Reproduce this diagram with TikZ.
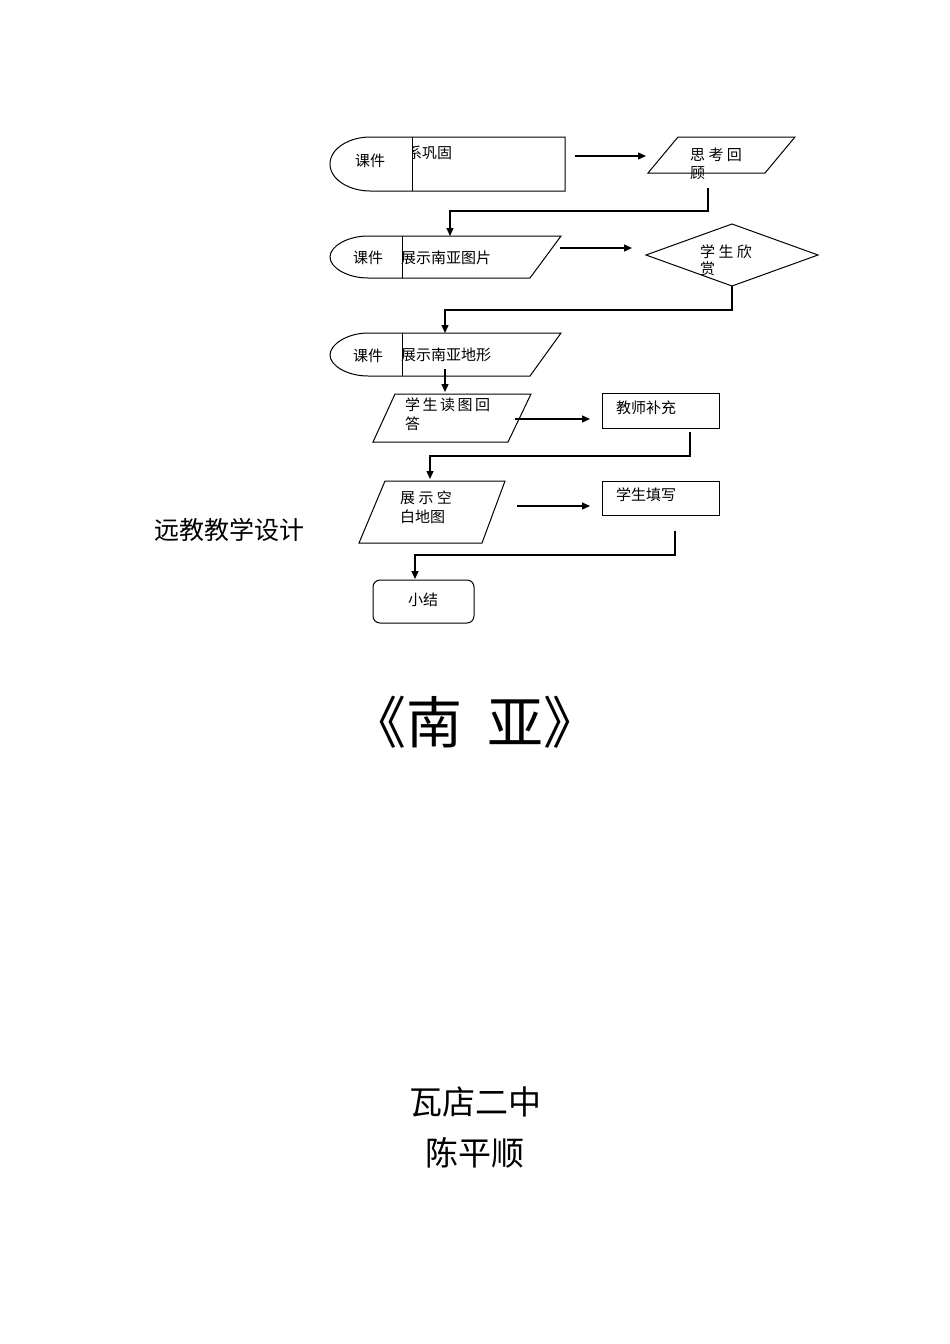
\documentclass[tikz,border=0pt]{standalone}
\usepackage{fontspec}
\setmainfont{Noto Sans CJK SC}
\usetikzlibrary{arrows.meta}
\begin{document}
\begin{tikzpicture}[x=1pt,y=-1pt,
  sh/.style={draw,line width=1pt},
  arr/.style={draw,line width=1.2pt,-{Triangle[length=8pt,width=7pt]}},
  txt/.style={inner sep=0pt,anchor=west,font=\fontsize{15}{17}\selectfont},
  ctr/.style={inner sep=0pt,font=\fontsize{15}{17}\selectfont}]
\useasboundingbox[fill=white] (0,0) rectangle (950,1344);
% shape 1
\draw[sh] (370,137) -- (565,137) -- (565,191) -- (370,191) .. controls (350,191) and (330,180) .. (330,164) .. controls (330,148) and (350,137) .. (370,137);
\draw[sh] (412,137) -- (412,191);
\node[ctr] (k1) at (370,161) {课件};
\begin{scope}
\clip (412,130) rectangle (565,195);
\node[txt] (t1) at (392,153) {联系巩固};
\end{scope}
\coordinate (a1s) at (575,156);
\coordinate (a1e) at (646,156);
\draw[arr] (a1s) -- (a1e);
\draw[sh] (678,137) -- (795,137) -- (765,173) -- (648,173) -- cycle;
\node[txt] (p1) at (690,155) {思\ 考\ 回};
\node[txt] (p1b) at (690,173) {顾};
\coordinate (c1) at (708,188);
\coordinate (c1e) at (450,236);
\draw[arr] (c1) |- (450,211) -- (c1e);
% shape 2
\draw[sh] (368,236) -- (561,236) -- (530,278) -- (368,278) .. controls (348,278) and (330,268) .. (330,257) .. controls (330,246) and (348,236) .. (368,236);
\draw[sh] (402,236) -- (402,278);
\node[ctr] (k2) at (368,258) {课件};
\node[txt] (t2) at (401,258) {展示南亚图片};
\coordinate (a2s) at (560,248);
\coordinate (a2e) at (632,248);
\draw[arr] (a2s) -- (a2e);
\draw[sh] (732,224) -- (818,255) -- (732,286) -- (646,255) -- cycle;
\node[txt] (d1) at (700,252) {学\ 生\ 欣};
\node[txt] (d1b) at (700,269) {赏};
\coordinate (c2) at (732,286);
\coordinate (c2e) at (445,333);
\draw[arr] (c2) |- (445,310) -- (c2e);
% shape 3
\draw[sh] (368,333) -- (561,333) -- (530,376) -- (368,376) .. controls (348,376) and (330,366) .. (330,355) .. controls (330,344) and (348,333) .. (368,333);
\draw[sh] (402,333) -- (402,376);
\node[ctr] (k3) at (368,356) {课件};
\node[txt] (t3) at (401,355) {展示南亚地形};
\coordinate (a3s) at (445,369);
\coordinate (a3e) at (445,392);
\draw[arr] (a3s) -- (a3e);
% shape 4
\draw[sh] (395,394) -- (531,394) -- (508,442) -- (373,442) -- cycle;
\node[txt] (p4) at (405,405) {学\,生\,读\,图\,回};
\node[txt] (p4b) at (405,424) {答};
\coordinate (a4s) at (515,419);
\coordinate (a4e) at (590,419);
\draw[arr] (a4s) -- (a4e);
\draw[sh] (602,393) rectangle (719,428);
\node[txt] (r1) at (616,408) {教师补充};
\coordinate (c4) at (690,432);
\coordinate (c4e) at (430,479);
\draw[arr] (c4) |- (430,456) -- (c4e);
% shape 5
\draw[sh] (385,481) -- (505,481) -- (482,543) -- (359,543) -- cycle;
\node[txt] (p5) at (400,498) {展\ 示\ 空};
\node[txt] (p5b) at (400,517) {白地图};
\coordinate (a5s) at (517,506);
\coordinate (a5e) at (590,506);
\draw[arr] (a5s) -- (a5e);
\draw[sh] (602,481) rectangle (719,515);
\node[txt] (r2) at (616,495) {学生填写};
\coordinate (c5) at (675,531);
\coordinate (c5e) at (415,579);
\draw[arr] (c5) |- (415,555) -- (c5e);
\draw[sh,rounded corners=7pt] (373,580) rectangle (474,623);
\node[ctr] (end) at (423,600) {小结};
% titles
\node[inner sep=0pt,font=\fontsize{25}{28}\selectfont] (sub) at (229,530) {远教教学设计};
\node[inner sep=0pt,font=\fontsize{56}{60}\selectfont] (title) at (475,722) {《南\ \ 亚》};
\node[inner sep=0pt,font=\fontsize{33}{36}\selectfont] (sch) at (475,1102) {瓦店二中};
\node[inner sep=0pt,font=\fontsize{33}{36}\selectfont] (au) at (475,1153) {陈平顺};
\end{tikzpicture}
\end{document}
